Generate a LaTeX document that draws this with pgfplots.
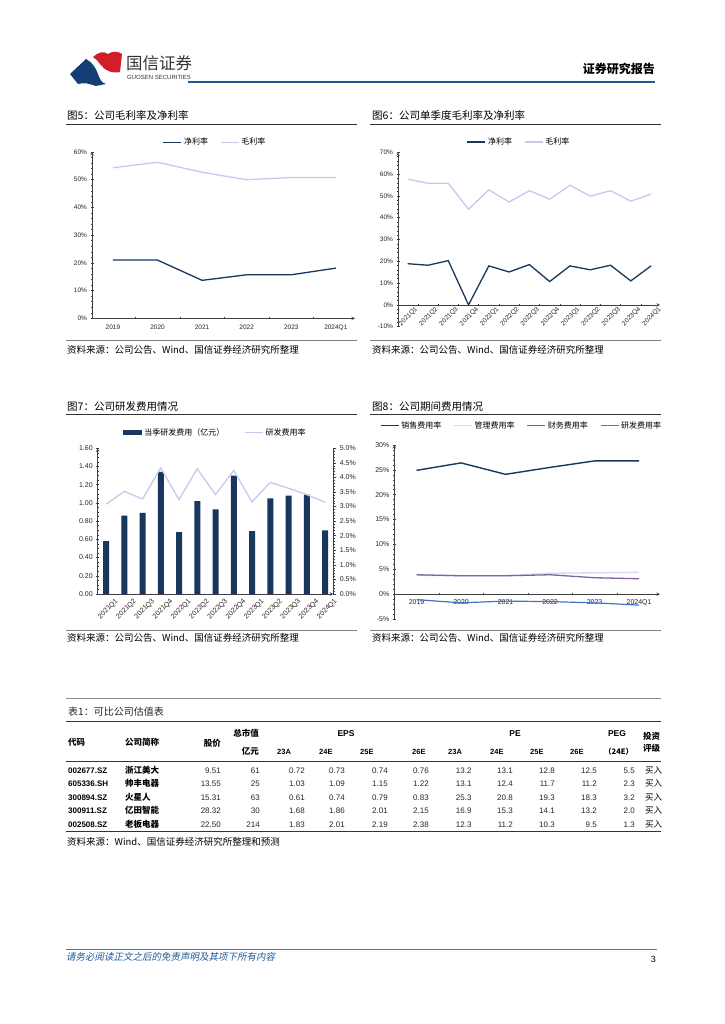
\documentclass[border=0pt]{standalone}
\usepackage{pgfplots}
\pgfplotsset{compat=1.18}
\usepackage{fontspec}
\setmainfont{Noto Sans CJK SC}
\newfontfamily\ls{Liberation Sans}
\newfontfamily\cjkit[FakeSlant=0.2]{Noto Sans CJK SC}
\definecolor{navy}{RGB}{23,55,94}
\definecolor{lav}{RGB}{200,200,238}
\definecolor{lav2}{RGB}{214,214,244}
\definecolor{fblue}{RGB}{68,114,196}
\definecolor{purp}{RGB}{128,100,162}
\definecolor{gxblue}{RGB}{31,90,150}
\definecolor{gred}{RGB}{210,30,40}
\definecolor{gblue}{RGB}{20,62,115}
\pgfplotsset{
  base/.style={scale only axis, anchor=south west,
    axis line style={-, draw=black!75, line width=0.6pt},
    tick align=outside, major tick length=3pt, minor tick length=1.8pt,
    tick style={black!75, line width=0.5pt},
    major x tick style={draw=none},
    hide obscured x ticks=false, hide obscured y ticks=false,
    tick label style={font=\ls\fontsize{6.5}{7}\selectfont, text=black!85},
    legend style={draw=none, fill=none, font=\fontsize{8}{9}\selectfont, inner sep=0pt,
      /tikz/every even column/.append style={column sep=10pt}},
    legend cell align=left,
    legend image code/.code={\draw[##1] (0pt,0pt) -- (18pt,0pt);},
    clip=false,
  },
}
\begin{document}
\begin{tikzpicture}[x=1pt,y=1pt]
\path[use as bounding box, fill=white] (0,0) rectangle (724,-1024);
% ---------- header ----------
\fill[gred] (93,-57) .. controls (98,-52) and (104,-51) .. (108,-54) .. controls (112,-51) and (118,-51) .. (122,-54) -- (120,-72) .. controls (112,-74) and (104,-70) .. (100,-64) .. controls (98,-61) and (96,-59) .. (93,-57) -- cycle;
\fill[gblue] (70,-74) -- (86,-59) .. controls (92,-62) and (96,-68) .. (98,-74) .. controls (100,-80) and (102,-83) .. (106,-84) -- (96,-86) .. controls (90,-84) and (84,-82) .. (78,-84) -- cycle;
\node[anchor=west, font=\fontsize{16.5}{17}\selectfont, text=black!80, inner sep=0pt] at (126,-63) {国信证券};
\node[anchor=west, font=\ls\fontsize{6}{7}\selectfont, text=black!80, inner sep=0pt] at (127,-77) {GUOSEN SECURITIES};
\draw[gxblue, line width=2pt] (188,-82) -- (655,-82);
\node[anchor=east, font=\bfseries\fontsize{12}{13}\selectfont, inner sep=0pt] at (655,-69) {证券研究报告};
% ---------- footer ----------
\draw[gxblue!80, line width=0.8pt] (66,-949) -- (657,-949);
\node[anchor=west, font=\cjkit\fontsize{9.5}{10}\selectfont, text=gxblue, inner sep=0pt] at (66,-957) {请务必阅读正文之后的免责声明及其项下所有内容};
\node[anchor=east, font=\ls\fontsize{9}{10}\selectfont, inner sep=0pt] at (656,-959) {3};
% ---------- titles, rules, sources ----------
\node[anchor=base west, font=\fontsize{10.5}{11}\selectfont, inner sep=0pt] at (67,-120) {图5：公司毛利率及净利率};
\node[anchor=base west, font=\fontsize{10.5}{11}\selectfont, inner sep=0pt] at (372,-120) {图6：公司单季度毛利率及净利率};
\node[anchor=base west, font=\fontsize{10.5}{11}\selectfont, inner sep=0pt] at (67,-410) {图7：公司研发费用情况};
\node[anchor=base west, font=\fontsize{10.5}{11}\selectfont, inner sep=0pt] at (372,-410) {图8：公司期间费用情况};
\draw[black!80, line width=1pt] (66,-125) -- (357,-125);
\draw[black!80, line width=1pt] (370,-125) -- (661,-125);
\draw[black!80, line width=1pt] (66,-414) -- (357,-414);
\draw[black!80, line width=1pt] (370,-414) -- (661,-414);
\draw[black!50, line width=0.6pt] (66,-340) -- (357,-340);
\draw[black!50, line width=0.6pt] (370,-340) -- (661,-340);
\draw[black!50, line width=0.6pt] (66,-630) -- (357,-630);
\draw[black!50, line width=0.6pt] (370,-630) -- (661,-630);
\foreach \xx/\yy in {67/350,372/350,67/638,372/638}
  \node[anchor=west, font=\fontsize{9.5}{10}\selectfont, inner sep=0pt] at (\xx,-\yy) {资料来源：公司公告、Wind、国信证券经济研究所整理};
% ---------- Fig 5 ----------
\begin{axis}[base, at={(92pt,-318.3pt)}, width=263pt, height=166.3pt,
  xmin=-0.47, xmax=5.43, ymin=0, ymax=60,
  axis x line=bottom, axis y line=left,
  xtick={0,...,5}, xticklabels={2019,2020,2021,2022,2023,2024Q1},
  minor xtick={0.5,1.5,2.5,3.5,4.5},
  xticklabel style={yshift=-1.5pt},
  ytick={0,10,...,60}, yticklabels={0\%,10\%,20\%,30\%,40\%,50\%,60\%},
  minor y tick num=4,
  legend style={at={(0.468,1)}, anchor=south, yshift=3.5pt}, legend columns=2]
\addplot[navy, line width=1.3pt] coordinates {(0,21.0)(1,21.0)(2,13.7)(3,15.7)(4,15.7)(5,18.1)};
\addlegendentry{净利率}
\addplot[lav, line width=1.3pt] coordinates {(0,54.3)(1,56.3)(2,52.7)(3,50.0)(4,50.8)(5,50.8)};
\addlegendentry{毛利率}
\end{axis}
% ---------- Fig 6 ----------
\begin{axis}[base, at={(398pt,-326.7pt)}, width=262pt, height=174.4pt,
  xmin=-0.478, xmax=12.44, ymin=-10, ymax=70,
  axis x line=middle, axis y line=left,
  xtick={0,...,12}, xticklabels={2021Q1,2021Q2,2021Q3,2021Q4,2022Q1,2022Q2,2022Q3,2022Q4,2023Q1,2023Q2,2023Q3,2023Q4,2024Q1},
  minor xtick={0.5,1.5,...,11.5},
  xticklabel style={xshift=9pt, yshift=-2pt, rotate=45, anchor=east, inner sep=0pt},
  ytick={-10,0,...,70}, yticklabels={-10\%,0\%,10\%,20\%,30\%,40\%,50\%,60\%,70\%},
  minor y tick num=4,
  legend style={at={(0.462,1)}, anchor=south, yshift=4pt}, legend columns=2]
\addplot[navy, line width=1.3pt] coordinates {(0,18.9)(1,18.2)(2,20.3)(3,0)(4,17.9)(5,15.1)(6,18.5)(7,10.7)(8,17.9)(9,16.1)(10,18.2)(11,11.0)(12,17.9)};
\addlegendentry{净利率}
\addplot[lav, line width=1.3pt] coordinates {(0,57.7)(1,55.8)(2,55.8)(3,43.9)(4,52.8)(5,47.2)(6,52.4)(7,48.5)(8,54.9)(9,49.9)(10,52.4)(11,47.6)(12,50.8)};
\addlegendentry{毛利率}
\end{axis}
% ---------- Fig 7 ----------
\begin{axis}[base, at={(97.7pt,-594pt)}, width=235.6pt, height=145.7pt,
  xmin=-0.455, xmax=12.455, ymin=0, ymax=1.6,
  axis x line=bottom, axis y line=left,
  tick label style={font=\ls\fontsize{7}{8}\selectfont},
  xtick={0,...,12}, xticklabels={2021Q1,2021Q2,2021Q3,2021Q4,2022Q1,2022Q2,2022Q3,2022Q4,2023Q1,2023Q2,2023Q3,2023Q4,2024Q1},
  xticklabel style={xshift=11pt, yshift=-4.5pt, rotate=45, anchor=east, inner sep=0pt},
  ytick={0,0.2,...,1.6}, yticklabels={0.00,0.20,0.40,0.60,0.80,1.00,1.20,1.40,1.60},
  minor y tick num=3,
  legend style={at={(0.5,1)}, anchor=south, yshift=9.5pt, /tikz/every even column/.append style={column sep=18pt}}, legend columns=2]
\addplot[ybar, bar width=6pt, fill=navy, draw=none, legend image code/.code={\fill[navy] (0pt,-2.2pt) rectangle (19pt,2.2pt);}] coordinates {(0,0.58)(1,0.86)(2,0.89)(3,1.34)(4,0.68)(5,1.02)(6,0.93)(7,1.30)(8,0.69)(9,1.05)(10,1.08)(11,1.09)(12,0.70)};
\addlegendentry{当季研发费用（亿元）}
\addlegendimage{lav, line width=1.3pt}
\addlegendentry{研发费用率}
\end{axis}
\begin{axis}[base, at={(97.7pt,-594pt)}, width=235.6pt, height=145.7pt,
  xmin=-0.455, xmax=12.455, ymin=0, ymax=5,
  axis x line=none, axis y line*=right,
  tick label style={font=\ls\fontsize{7}{8}\selectfont},
  ytick={0,0.5,...,5}, yticklabels={0.0\%,0.5\%,1.0\%,1.5\%,2.0\%,2.5\%,3.0\%,3.5\%,4.0\%,4.5\%,5.0\%},
  minor y tick num=4]
\addplot[lav, line width=1.3pt] coordinates {(0,3.08)(1,3.52)(2,3.26)(3,4.33)(4,3.24)(5,4.30)(6,3.41)(7,4.24)(8,3.16)(9,3.83)(10,3.63)(11,3.41)(12,3.15)};
\end{axis}
% ---------- Fig 8 ----------
\begin{axis}[base, at={(394.3pt,-619pt)}, width=265.7pt, height=174pt,
  xmin=-0.5, xmax=5.47, ymin=-5, ymax=30,
  axis x line=middle, axis y line=left,
  tick label style={font=\ls\fontsize{7}{8}\selectfont},
  xtick={0,...,5}, xticklabels={2019,2020,2021,2022,2023,2024Q1},
  minor xtick={0.5,1.5,2.5,3.5,4.5},
  ytick={-5,0,...,30}, yticklabels={-5\%,0\%,5\%,10\%,15\%,20\%,25\%,30\%},
  minor y tick num=4,
  legend style={at={(0.479,1)}, anchor=south, yshift=13pt}, legend columns=4]
\addplot[navy, line width=1.4pt] coordinates {(0,24.9)(1,26.4)(2,24.1)(3,25.5)(4,26.8)(5,26.8)};
\addlegendentry{销售费用率}
\addplot[lav2, line width=1.3pt] coordinates {(0,3.8)(1,3.7)(2,3.7)(3,4.2)(4,4.3)(5,4.4)};
\addlegendentry{管理费用率}
\addplot[fblue, line width=1.2pt] coordinates {(0,-1.1)(1,-1.75)(2,-1.4)(3,-1.5)(4,-1.75)(5,-2.2)};
\addlegendentry{财务费用率}
\addplot[purp, line width=1.3pt] coordinates {(0,3.9)(1,3.7)(2,3.7)(3,3.9)(4,3.3)(5,3.1)};
\addlegendentry{研发费用率}
\end{axis}
% ---------- Table ----------
\draw[black!45, line width=1.2pt] (66,-698.3) -- (661,-698.3);
\node[anchor=west, font=\fontsize{10}{11}\selectfont, text=black!85, inner sep=0pt] at (68,-711.5) {表1：可比公司估值表};
\draw[black!80, line width=1pt] (66,-721) -- (661,-721);
\draw[black!80, line width=0.5pt] (66,-761.7) -- (661,-761.7);
\draw[black!80, line width=0.8pt] (66,-831.7) -- (661,-831.7);
\begin{scope}[every node/.style={inner sep=0pt, font=\bfseries\fontsize{8.5}{9}\selectfont}]
\node[anchor=west] at (68,-742.5) {代码};
\node[anchor=west] at (125,-742.5) {公司简称};
\node[anchor=east] at (221,-743) {股价};
\node[anchor=east] at (259,-733.3) {总市值};
\node[anchor=east] at (259,-751.5) {亿元};
\node at (346,-733.3) {\ls EPS};
\node at (515,-733.3) {\ls PE};
\node at (617,-733.3) {\ls PEG};
\node[anchor=west] at (643,-736) {投资};
\node[anchor=west] at (643,-748) {评级};
\foreach \xx/\tt in {277/23A,319/24E,360/25E,412/26E,448/23A,490/24E,530/25E,570/26E}
  \node[anchor=west, font=\ls\bfseries\fontsize{7.5}{8}\selectfont] at (\xx,-752) {\tt};
\node[anchor=west, font=\bfseries\fontsize{7.5}{8}\selectfont] at (604,-752) {（24E）};
\end{scope}
\begin{scope}[every node/.style={inner sep=0pt}]
\foreach \yy/\cd/\nm/\pa/\pb/\pc/\pd/\pe/\pf/\pg/\ph/\pi/\pj/\pk in {
  770.3/002677.SZ/浙江美大/9.51/61/0.72/0.73/0.74/0.76/13.2/13.1/12.8/12.5/5.5,
  783.8/605336.SH/帅丰电器/13.55/25/1.03/1.09/1.15/1.22/13.1/12.4/11.7/11.2/2.3,
  797.3/300894.SZ/火星人/15.31/63/0.61/0.74/0.79/0.83/25.3/20.8/19.3/18.3/3.2,
  810.8/300911.SZ/亿田智能/28.32/30/1.68/1.86/2.01/2.15/16.9/15.3/14.1/13.2/2.0,
  824.3/002508.SZ/老板电器/22.50/214/1.83/2.01/2.19/2.38/12.3/11.2/10.3/9.5/1.3}{
  \node[anchor=base west, font=\ls\bfseries\fontsize{8}{9}\selectfont] at (68,-\yy-3) {\cd};
  \node[anchor=base west, font=\bfseries\fontsize{8.5}{9}\selectfont] at (125,-\yy-3) {\nm};
  \foreach \xx/\vv in {221/\pa,260/\pb,305/\pc,345/\pd,388/\pe,429/\pf,471.7/\pg,513/\ph,555/\pi,597/\pj,635/\pk}
    \node[anchor=base east, font=\ls\fontsize{8}{9}\selectfont, text=black!85] at (\xx,-\yy-3) {\vv};
  \node[anchor=base west, font=\fontsize{8.5}{9}\selectfont] at (645,-\yy-3) {买入};
}
\end{scope}
\node[anchor=west, font=\fontsize{9.5}{10}\selectfont, inner sep=0pt] at (67,-842) {资料来源：Wind、国信证券经济研究所整理和预测};
\end{tikzpicture}
\end{document}
